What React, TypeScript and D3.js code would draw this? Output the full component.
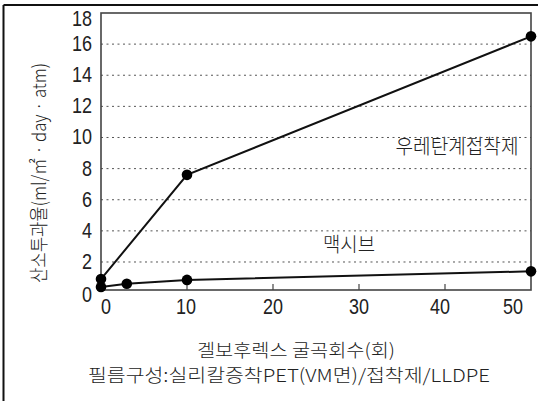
import React from "react";
import * as d3 from "d3";

const xTicks = [0, 10, 20, 30, 40, 50];
const yTicks = [0, 2, 4, 6, 8, 10, 12, 14, 16, 18];
const gridValues = [2, 4, 6, 8, 10, 12, 14, 16];
const urethaneX = [0, 10, 50];
const urethaneY = [0.9, 7.6, 16.5];
const maxivX = [0, 3, 10, 50];
const maxivY = [0.4, 0.6, 0.85, 1.4];

const W = 538, H = 401;
const left = 101, right = 531, top = 13, bottom = 290;

const num = '"Liberation Sans", Arial, sans-serif';
const kr = '"Noto Sans CJK KR", "Noto Sans", sans-serif';

export default function App() {
  const x = d3.scaleLinear().domain([0, 50]).range([left, right]);
  const y = d3.scaleLinear().domain([0.2, 18]).range([bottom, top]);
  const line = d3.line<[number, number]>().x(d => x(d[0])).y(d => y(d[1]));
  const uPts: [number, number][] = urethaneX.map((v, i) => [v, urethaneY[i]]);
  const mPts: [number, number][] = maxivX.map((v, i) => [v, maxivY[i]]);
  const yDy = (v: number) => (v === 18 ? 6 : v === 0 ? 2 : 0);
  const xDx = (v: number) => (v === 0 ? 5 : v === 50 ? -18 : v === 40 ? -5 : v === 10 ? -1 : 0);
  const tl = (v: number) => String(v).length * 10;

  return (
    <svg width={W} height={H} style={{ position: "absolute", left: 0, top: 0, background: "#fff" }}>
      <rect x={0} y={0} width={W} height={H} fill="#fff" />
      <line x1={3.5} y1={5} x2={3.5} y2={H} stroke="#111" strokeWidth={2} />
      <line x1={3.5} y1={5} x2={W} y2={5} stroke="#111" strokeWidth={2} />

      {gridValues.map(v => (
        <line key={"g" + v} x1={left} x2={right} y1={y(v)} y2={y(v)}
          stroke="#555" strokeWidth={1} strokeDasharray="2,3.5" />
      ))}

      {xTicks.slice(1, -1).map(v => (
        <line key={"t" + v} x1={x(v)} x2={x(v)} y1={bottom} y2={bottom - 6} stroke="#444" strokeWidth={1.2} />
      ))}

      <rect x={left} y={top} width={right - left} height={bottom - top} fill="none" stroke="#444" strokeWidth={1.6} />

      <path d={line(uPts) || ""} fill="none" stroke="#111" strokeWidth={2} />
      <path d={line(mPts) || ""} fill="none" stroke="#111" strokeWidth={2} />
      {uPts.map((p, i) => <circle key={"u" + i} cx={x(p[0])} cy={y(p[1])} r={5.3} fill="#000" />)}
      {mPts.map((p, i) => <circle key={"m" + i} cx={x(p[0])} cy={y(p[1])} r={5.3} fill="#000" />)}

      {yTicks.map(v => (
        <text key={"yl" + v} x={92} y={y(v) + yDy(v)} textAnchor="end" dominantBaseline="central"
          fontFamily={num} fontSize={21.5} fill="#222" textLength={tl(v)} lengthAdjust="spacingAndGlyphs">{v}</text>
      ))}
      {xTicks.map(v => (
        <text key={"xl" + v} x={x(v) + xDx(v)} y={314} textAnchor="middle"
          fontFamily={num} fontSize={22.5} fill="#222" textLength={tl(v)} lengthAdjust="spacingAndGlyphs">{v}</text>
      ))}

      <text x={457} y={145} textAnchor="middle" dominantBaseline="central" fontFamily={kr} fontSize={20}
        fontWeight={300} fill="#222" textLength={123} lengthAdjust="spacingAndGlyphs">우레탄계접착제</text>
      <text x={349} y={243} textAnchor="middle" dominantBaseline="central" fontFamily={kr} fontSize={20}
        fontWeight={300} fill="#222" textLength={52} lengthAdjust="spacingAndGlyphs">맥시브</text>

      <text transform="translate(37,173) rotate(-90)" textAnchor="middle" dominantBaseline="central"
        fontFamily={kr} fontSize={19} fontWeight={300} fill="#222" textLength={220} lengthAdjust="spacingAndGlyphs">
        산소투과율(ml/㎡ · day · atm)
      </text>
      <text x={296} y={348.5} textAnchor="middle" dominantBaseline="central" fontFamily={kr} fontSize={18}
        fontWeight={300} fill="#222" textLength={198} lengthAdjust="spacingAndGlyphs">겔보후렉스 굴곡회수(회)</text>
      <text x={289} y={373.5} textAnchor="middle" dominantBaseline="central" fontFamily={kr} fontSize={18}
        fontWeight={300} fill="#222" textLength={402} lengthAdjust="spacingAndGlyphs">필름구성:실리칼증착PET(VM면)/접착제/LLDPE</text>
    </svg>
  );
}
